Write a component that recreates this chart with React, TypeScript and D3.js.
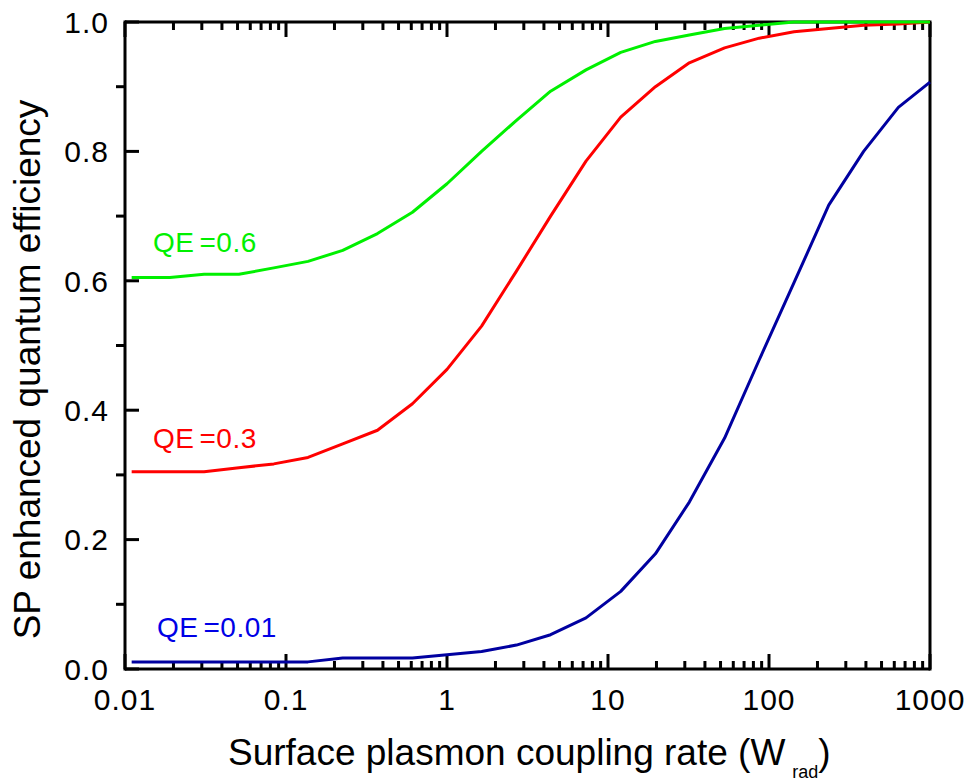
import React from "react";
import * as d3 from "d3";

const couplingRate = [0.011, 0.019, 0.031, 0.051, 0.084, 0.137, 0.225, 0.37, 0.61, 1, 1.64, 2.7, 4.4, 7.3, 12, 19.7, 32, 53, 87, 143, 235, 387, 636, 1000];
const qe06 = [0.605, 0.605, 0.61, 0.61, 0.62, 0.63, 0.647, 0.673, 0.706, 0.75, 0.8, 0.848, 0.893, 0.926, 0.953, 0.97, 0.98, 0.99, 0.995, 1.0, 1.0, 1.0, 1.0, 1.0];
const qe03 = [0.305, 0.305, 0.305, 0.311, 0.317, 0.327, 0.348, 0.369, 0.41, 0.463, 0.53, 0.615, 0.7, 0.785, 0.853, 0.9, 0.937, 0.96, 0.975, 0.985, 0.99, 0.995, 0.997, 1.0];
const qe001 = [0.011, 0.011, 0.011, 0.011, 0.011, 0.011, 0.017, 0.017, 0.017, 0.022, 0.027, 0.037, 0.053, 0.079, 0.12, 0.178, 0.258, 0.357, 0.478, 0.597, 0.717, 0.8, 0.868, 0.907];

const xTickValues = [0.01, 0.1, 1, 10, 100, 1000];
const xTickLabels = ["0.01", "0.1", "1", "10", "100", "1000"];
const yTickValues = [0, 0.2, 0.4, 0.6, 0.8, 1.0];
const yTickLabels = ["0.0", "0.2", "0.4", "0.6", "0.8", "1.0"];
const yMinorValues = [0.1, 0.3, 0.5, 0.7, 0.9];

const seriesNames = ["QE=0.01", "QE=0.3", "QE=0.6"];

const FONT = "'Liberation Sans', Arial, sans-serif";

export default function App() {
  const W = 972, H = 784;
  const left = 125, right = 930, top = 22, bottom = 669;
  const x = d3.scaleLog().domain([0.01, 1000]).range([left, right]);
  const y = d3.scaleLinear().domain([0, 1]).range([bottom, top]);

  const xMinor: number[] = [];
  for (let e = -2; e < 3; e++) {
    for (let m = 2; m <= 9; m++) xMinor.push(m * Math.pow(10, e));
  }

  const line = d3
    .line<[number, number]>()
    .x((d) => x(d[0]))
    .y((d) => y(d[1]));

  const series = [
    { name: seriesNames[0], values: qe001, color: "#0000a0", textColor: "#0000e6", lx: 157, ly: 0.05 },
    { name: seriesNames[1], values: qe03, color: "#ff0000", textColor: "#ff0000", lx: 153, ly: 0.342 },
    { name: seriesNames[2], values: qe06, color: "#00f000", textColor: "#00f000", lx: 153, ly: 0.645 },
  ];

  return (
    <svg width={W} height={H} style={{ position: "absolute", left: 0, top: 0, background: "#fff" }} fontFamily={FONT}>
      {/* axes frame */}
      <g stroke="#000" strokeWidth={3} fill="none">
        <line x1={left} y1={bottom} x2={right} y2={bottom} />
        <line x1={left} y1={top} x2={right} y2={top} />
        <line x1={left} y1={top - 1.5} x2={left} y2={bottom + 1.5} />
        <line x1={right} y1={top - 1.5} x2={right} y2={bottom + 1.5} />
        {xTickValues.map((v) => (
          <g key={"xm" + v}>
            <line x1={x(v)} x2={x(v)} y1={bottom} y2={bottom - 15} />
            <line x1={x(v)} x2={x(v)} y1={top} y2={top + 15} />
          </g>
        ))}
        {xMinor.map((v) => (
          <g key={"xn" + v}>
            <line x1={x(v)} x2={x(v)} y1={bottom} y2={bottom - 8} />
            <line x1={x(v)} x2={x(v)} y1={top} y2={top + 8} />
          </g>
        ))}
        {yTickValues.map((v) => (
          <line key={"ym" + v} x1={left} x2={left + 14} y1={y(v)} y2={y(v)} />
        ))}
        {yMinorValues.map((v) => (
          <line key={"yn" + v} x1={left} x2={left - 9} y1={y(v)} y2={y(v)} />
        ))}
      </g>

      {/* tick labels */}
      <g fontSize={30} fill="#000" letterSpacing={1}>
        {xTickValues.map((v, i) => (
          <text key={"xl" + v} x={x(v)} y={710} textAnchor="middle">
            {xTickLabels[i]}
          </text>
        ))}
        {yTickValues.map((v, i) => (
          <text key={"yl" + v} x={109} y={y(v)} dy="0.36em" textAnchor="end">
            {yTickLabels[i]}
          </text>
        ))}
      </g>

      {/* data lines */}
      {series.map((s) => (
        <path
          key={s.name}
          d={line(couplingRate.map((c, i) => [c, s.values[i]] as [number, number])) || ""}
          fill="none"
          stroke={s.color}
          strokeWidth={3}
          strokeLinejoin="round"
        />
      ))}

      {/* series labels */}
      {series.map((s) => (
        <text key={"lab" + s.name} x={s.lx} y={y(s.ly)} fontSize={28} fill={s.textColor} letterSpacing={0.5}>
          <tspan>QE</tspan>
          <tspan dx={5}>{s.name.slice(2)}</tspan>
        </text>
      ))}

      {/* axis titles */}
      <text x={228} y={765} fontSize={37} fill="#000">
        Surface plasmon coupling rate (W
        <tspan fontSize={18} dx={7} dy={13}>rad</tspan>
        <tspan dy={-13}>)</tspan>
      </text>
      <text
        transform={`translate(40, ${(99 + 640) / 2}) rotate(-90)`}
        textAnchor="middle"
        fontSize={37}
        fill="#000"
      >
        SP enhanced quantum efficiency
      </text>
    </svg>
  );
}
